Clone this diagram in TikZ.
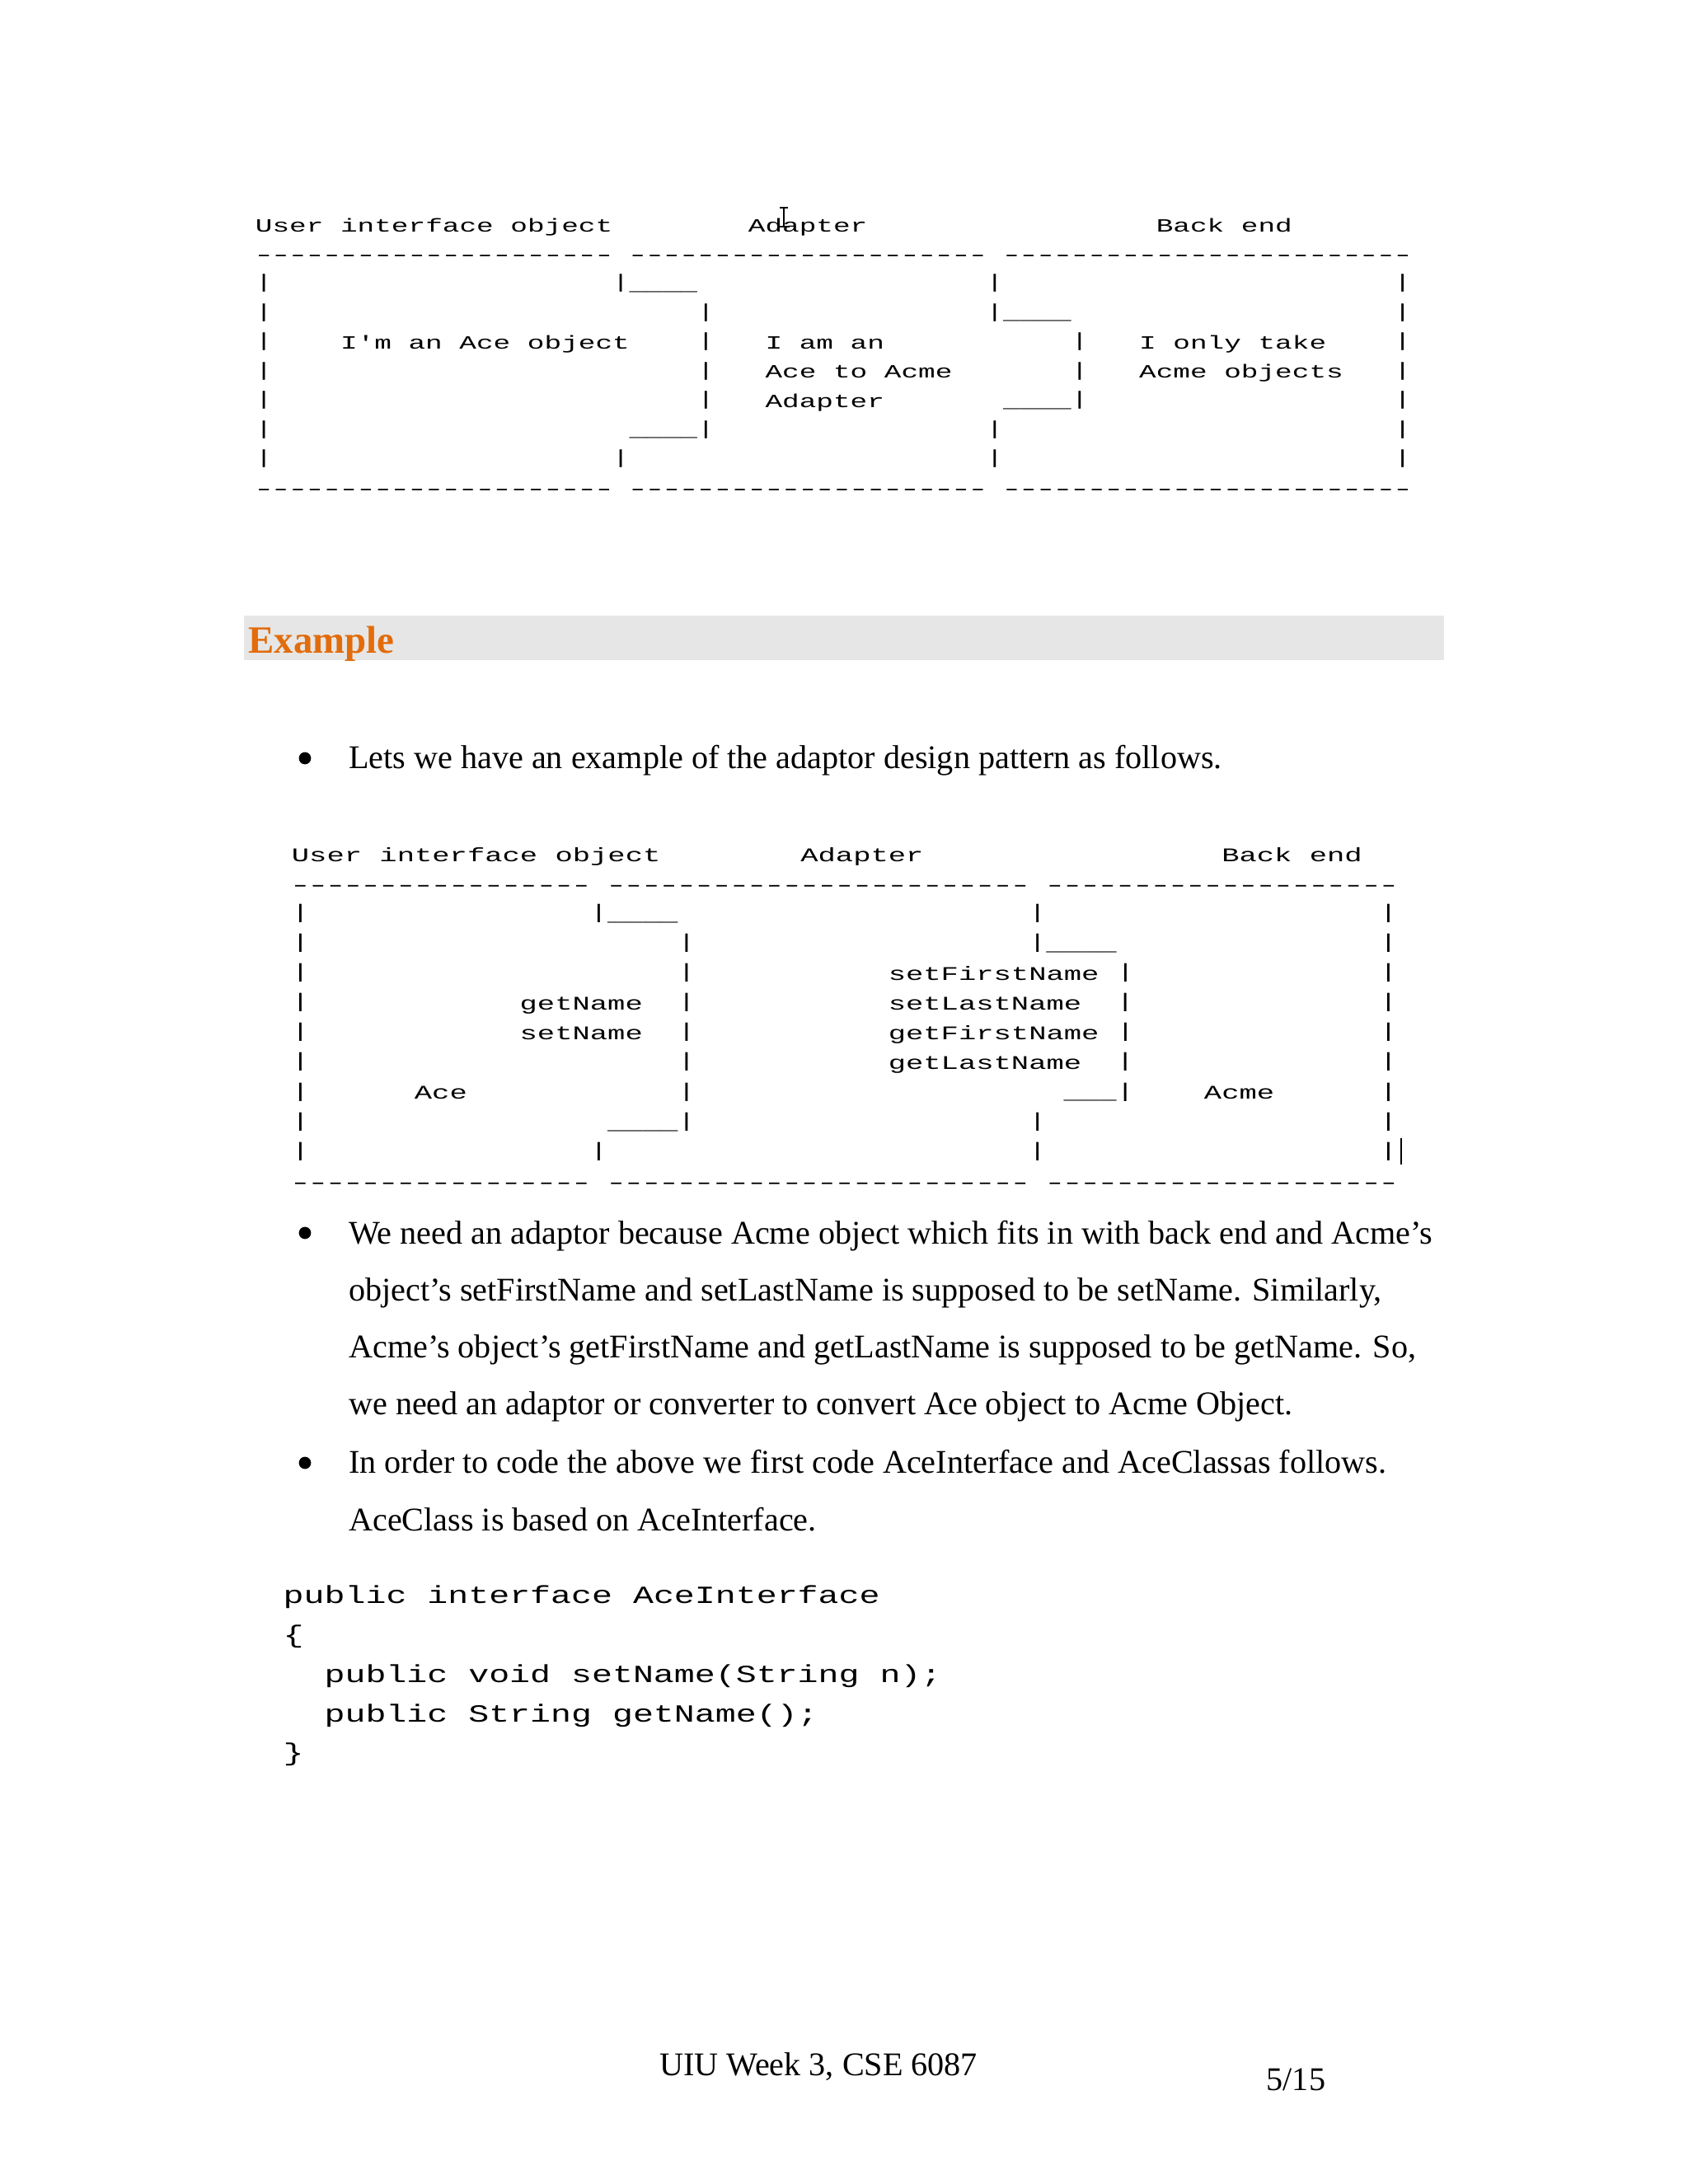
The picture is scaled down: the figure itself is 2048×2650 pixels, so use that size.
\documentclass[tikz,border=0pt]{standalone}
\usepackage{fontspec}
\usepackage{graphicx}
\setmainfont{Liberation Serif}
\setmonofont{Liberation Mono}
\definecolor{hdrorange}{HTML}{E36C0A}
\definecolor{hdrgray}{HTML}{E6E6E6}
% column / row positions (picture units = reference pixels)
\newcommand\xa[1]{309.2+20.62*(#1)}
\newcommand\ya[1]{281.4+35.49*(#1)}
\newcommand\xb[1]{353.2+21.29*(#1)}
\newcommand\yb[1]{1045.1+36.1*(#1)}
\newcommand\xc[1]{343.0+24.94*(#1)}
\newcommand\yc[1]{1945.8+47.74*(#1)}
% the reference's fixed-pitch font is low and wide: squash glyphs vertically
\newcommand\TA[4]{\node[asca] (#1) at ({\xa{#2}},{\ya{#3}}) {\scalebox{1}[0.66]{#4}};}
\newcommand\TB[4]{\node[ascb] (#1) at ({\xb{#2}},{\yb{#3}}) {\scalebox{1}[0.66]{#4}};}
\newcommand\TC[4]{\node[codet] (#1) at ({\xc{#2}},{\yc{#3}}) {\scalebox{1}[0.72]{#4}};}
% bar and dash as drawn by the reference's bitmap font
\newcommand\pp{\makebox[0.6em]{\raisebox{-0.09em}{\resizebox*{0.6em}{0.95em}{\raisebox{\depth}{|}}}}}
\newcommand\dd{\makebox[0.6em]{\scalebox{1.3}[1]{-}}}
\newcommand\dashes[1]{\foreach\k in {1,...,#1}{\dd}}
\begin{document}
\begin{tikzpicture}[x=0.01cm,y=-0.01cm,
  asca/.style={font=\ttfamily\fontsize{9.78pt}{10pt}\selectfont, inner sep=0pt, anchor=base west},
  ascb/.style={font=\ttfamily\fontsize{10.1pt}{10pt}\selectfont, inner sep=0pt, anchor=base west},
  codet/.style={font=\ttfamily\fontsize{11.83pt}{12pt}\selectfont, inner sep=0pt, anchor=base west},
  body/.style={font=\fontsize{11.42pt}{13pt}\selectfont, inner sep=0pt, anchor=base west},
  bul/.style={circle, fill=black, inner sep=0pt, minimum size=4.2pt},
  cursor/.style={line width=0.5pt}]
\useasboundingbox[fill=white] (0,0) rectangle (2048,2650);

% ---------- top ASCII diagram ----------
\TA{a00}{0}{0}{User interface object}
\TA{a01}{29}{0}{Adapter}
\TA{a02}{53}{0}{Back end}
\TA{a10}{0}{1}{\dashes{21}}
\TA{a11}{22}{1}{\dashes{21}}
\TA{a12}{44}{1}{\dashes{24}}
\TA{a20}{0}{2}{\pp}
\TA{a21}{21}{2}{\pp\_\_\_\_}
\TA{a22}{43}{2}{\pp}
\TA{a23}{67}{2}{\pp}
\TA{a30}{0}{3}{\pp}
\TA{a31}{26}{3}{\pp}
\TA{a32}{43}{3}{\pp\_\_\_\_}
\TA{a33}{67}{3}{\pp}
\TA{a40}{0}{4}{\pp}
\TA{a41}{5}{4}{I'm an Ace object}
\TA{a42}{26}{4}{\pp}
\TA{a43}{30}{4}{I am an}
\TA{a44}{48}{4}{\pp}
\TA{a45}{52}{4}{I only take}
\TA{a46}{67}{4}{\pp}
\TA{a50}{0}{5}{\pp}
\TA{a51}{26}{5}{\pp}
\TA{a52}{30}{5}{Ace to Acme}
\TA{a53}{48}{5}{\pp}
\TA{a54}{52}{5}{Acme objects}
\TA{a55}{67}{5}{\pp}
\TA{a60}{0}{6}{\pp}
\TA{a61}{26}{6}{\pp}
\TA{a62}{30}{6}{Adapter}
\TA{a63}{44}{6}{\_\_\_\_\pp}
\TA{a64}{67}{6}{\pp}
\TA{a70}{0}{7}{\pp}
\TA{a71}{22}{7}{\_\_\_\_\pp}
\TA{a72}{43}{7}{\pp}
\TA{a73}{67}{7}{\pp}
\TA{a80}{0}{8}{\pp}
\TA{a81}{21}{8}{\pp}
\TA{a82}{43}{8}{\pp}
\TA{a83}{67}{8}{\pp}
\TA{a90}{0}{9}{\dashes{21}}
\TA{a91}{22}{9}{\dashes{21}}
\TA{a92}{44}{9}{\dashes{24}}
% text cursor over "Adapter"
\draw[cursor] (951,252) -- (951,275);
\draw[cursor] (946,252) -- (956,252);
\draw[cursor] (946,275) -- (958,275);

% ---------- Example heading ----------
\fill[hdrgray] (295.7,747) rectangle (1752.3,801);
\node[font=\bfseries\fontsize{13.33pt}{15pt}\selectfont, text=hdrorange, inner sep=0pt, anchor=base west] (hdr) at (300.8,792.5) {Example};

% ---------- bullet 1 ----------
\node[bul] (bu1) at (370,920) {};
\node[body] (l1) at (422.5,932.8) {Lets we have an example of the adaptor design pattern as follows.};

% ---------- second ASCII diagram ----------
\TB{b00}{0}{0}{User interface object}
\TB{b01}{29}{0}{Adapter}
\TB{b02}{53}{0}{Back end}
\TB{b10}{0}{1}{\dashes{17}}
\TB{b11}{18}{1}{\dashes{24}}
\TB{b12}{43}{1}{\dashes{20}}
\TB{b20}{0}{2}{\pp}
\TB{b21}{17}{2}{\pp\_\_\_\_}
\TB{b22}{42}{2}{\pp}
\TB{b23}{62}{2}{\pp}
\TB{b30}{0}{3}{\pp}
\TB{b31}{22}{3}{\pp}
\TB{b32}{42}{3}{\pp\_\_\_\_}
\TB{b33}{62}{3}{\pp}
\TB{b40}{0}{4}{\pp}
\TB{b41}{22}{4}{\pp}
\TB{b42}{34}{4}{setFirstName \pp}
\TB{b43}{62}{4}{\pp}
\TB{b50}{0}{5}{\pp}
\TB{b51}{13}{5}{getName}
\TB{b52}{22}{5}{\pp}
\TB{b53}{34}{5}{setLastName}
\TB{b54}{47}{5}{\pp}
\TB{b55}{62}{5}{\pp}
\TB{b60}{0}{6}{\pp}
\TB{b61}{13}{6}{setName}
\TB{b62}{22}{6}{\pp}
\TB{b63}{34}{6}{getFirstName \pp}
\TB{b64}{62}{6}{\pp}
\TB{b70}{0}{7}{\pp}
\TB{b71}{22}{7}{\pp}
\TB{b72}{34}{7}{getLastName}
\TB{b73}{47}{7}{\pp}
\TB{b74}{62}{7}{\pp}
\TB{b80}{0}{8}{\pp}
\TB{b81}{7}{8}{Ace}
\TB{b82}{22}{8}{\pp}
\TB{b83}{44}{8}{\_\_\_\pp}
\TB{b84}{52}{8}{Acme}
\TB{b85}{62}{8}{\pp}
\TB{b90}{0}{9}{\pp}
\TB{b91}{18}{9}{\_\_\_\_\pp}
\TB{b92}{42}{9}{\pp}
\TB{b93}{62}{9}{\pp}
\TB{bA0}{0}{10}{\pp}
\TB{bA1}{17}{10}{\pp}
\TB{bA2}{42}{10}{\pp}
\TB{bA3}{62}{10}{\pp}
\TB{bB0}{0}{11}{\dashes{17}}
\TB{bB1}{18}{11}{\dashes{24}}
\TB{bB2}{43}{11}{\dashes{20}}
\draw[cursor] (1700,1381) -- (1700,1413);

% ---------- bullets 2 and 3 ----------
\node[bul] (bu2) at (370,1496) {};
\node[body] (l2) at (422.5,1509) {We need an adaptor because Acme object which fits in with back end and Acme’s};
\node[body] (l3) at (422.5,1578) {object’s setFirstName and setLastName is supposed to be setName. Similarly,};
\node[body] (l4) at (422.5,1647.6) {Acme’s object’s getFirstName and getLastName is supposed to be getName. So,};
\node[body] (l5) at (422.5,1716.8) {we need an adaptor or converter to convert Ace object to Acme Object.};
\node[bul] (bu3) at (370,1775) {};
\node[body] (l6) at (422.5,1787.8) {In order to code the above we first code AceInterface and AceClassas follows.};
\node[body] (l7) at (422.5,1857) {AceClass is based on AceInterface.};

% ---------- code ----------
\TC{c0}{0}{0}{public interface AceInterface}
\TC{c1}{0}{1}{\{}
\TC{c2}{2}{2}{public void setName(String n);}
\TC{c3}{2}{3}{public String getName();}
\TC{c4}{0}{4}{\}}

% ---------- footer ----------
\node[body] (ft) at (799.3,2518) {UIU Week 3, CSE 6087};
\node[body] (pg) at (1536,2536) {5/15};
\end{tikzpicture}
\end{document}
